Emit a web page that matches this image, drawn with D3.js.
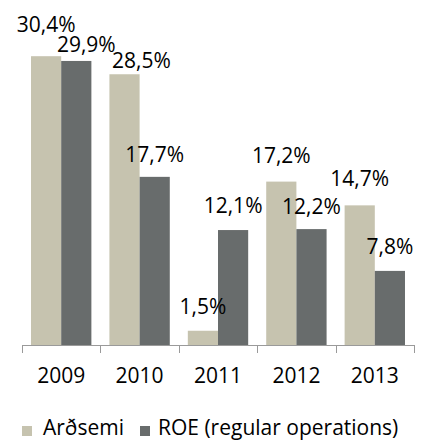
<!DOCTYPE html>
<html>
<head>
<meta charset="utf-8">
<script src="https://cdn.jsdelivr.net/npm/d3@7"></script>
<style>
  html, body { margin: 0; padding: 0; background: #fff; }
  svg { display: block; }
  text { font-family: "Open Sans", sans-serif; fill: #000; }
</style>
</head>
<body>
<svg id="chart" width="426" height="441"></svg>
<script>
// ---- data ----
const years = ["2009", "2010", "2011", "2012", "2013"];
const seriesNames = ["Arðsemi", "ROE (regular operations)"];
const ardsemi = [30.4, 28.5, 1.5, 17.2, 14.7];
const roe = [29.9, 17.7, 12.1, 12.2, 7.8];

// ---- style / layout ----
const colors = ["#c6c3af", "#686c6c"];
// manual label nudges (dx, dy) per series per year, as in the original
const nudgeA = [[0, -7], [17, 11], [0, 0], [0, -2], [0, -2]];
const nudgeR = [[10, 8], [0, 2], [0, 0], [0, 2], [0, 0]];

const svg = d3.select("#chart");
const left = 22, right = 414, baseY = 345;

const x0 = d3.scaleBand().domain(years).range([left, right])
  .paddingInner(0.23).paddingOuter(0.115);
const x1 = d3.scaleBand().domain(seriesNames).range([0, x0.bandwidth()]);
const y = d3.scaleLinear().domain([0, 35]).range([baseY, baseY - 35 * 9.5]);

const fmt = v => d3.format(".1f")(v).replace(".", ",") + "%";

const rows = [];
years.forEach((yr, i) => {
  rows.push({ year: yr, s: seriesNames[0], v: ardsemi[i], c: colors[0], n: nudgeA[i] });
  rows.push({ year: yr, s: seriesNames[1], v: roe[i], c: colors[1], n: nudgeR[i] });
});

// bars
svg.append("g").selectAll("rect").data(rows).join("rect")
  .attr("x", d => x0(d.year) + x1(d.s))
  .attr("y", d => y(d.v))
  .attr("width", x1.bandwidth())
  .attr("height", d => y(0) - y(d.v))
  .attr("fill", d => d.c);

// axis line & ticks at category boundaries
const axis = svg.append("g");
axis.append("line")
  .attr("x1", left).attr("x2", right).attr("y1", baseY + 0.5).attr("y2", baseY + 0.5)
  .attr("stroke", "#9a9a9a").attr("stroke-width", 1);
const step = x0.step();
const bounds = years.map((yr) => x0(yr) - step * 0.115).concat([right]);
axis.selectAll("line.tick").data(bounds).join("line").attr("class", "tick")
  .attr("x1", d => Math.round(d) + 0.5).attr("x2", d => Math.round(d) + 0.5)
  .attr("y1", baseY).attr("y2", baseY + 8)
  .attr("stroke", "#9a9a9a").attr("stroke-width", 1);

// year labels
axis.selectAll("text").data(years).join("text")
  .attr("x", d => x0(d) + x0.bandwidth() / 2)
  .attr("y", 383)
  .attr("text-anchor", "middle")
  .attr("font-size", 21)
  .text(d => d);

// value labels
svg.append("g").selectAll("text").data(rows).join("text")
  .attr("x", d => x0(d.year) + x1(d.s) + x1.bandwidth() / 2 + d.n[0])
  .attr("y", d => y(d.v) - 17 + d.n[1])
  .attr("text-anchor", "middle")
  .attr("font-size", 21)
  .text(d => fmt(d.v));

// legend
const legend = svg.append("g");
const legX = [22, 140];
const legTextX = [43, 158];
seriesNames.forEach((name, i) => {
  legend.append("rect").attr("x", legX[i]).attr("y", 426).attr("width", 10).attr("height", 10)
    .attr("fill", colors[i]);
  legend.append("text").attr("x", legTextX[i]).attr("y", 435)
    .attr("font-size", 21).text(name);
});
</script>
</body>
</html>
